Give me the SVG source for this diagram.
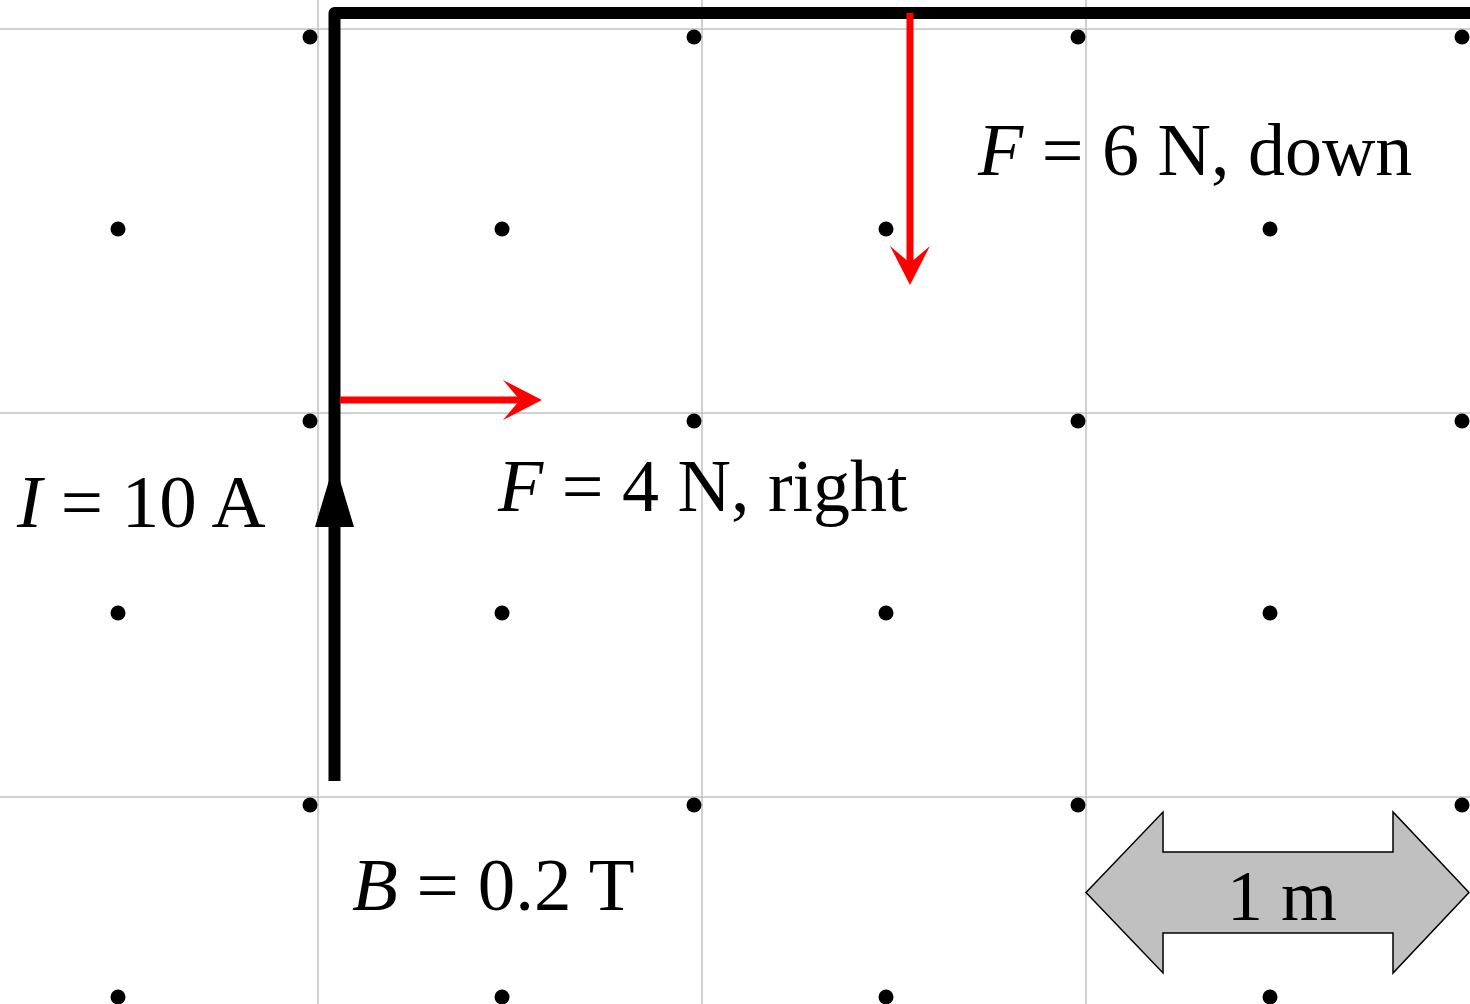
<svg xmlns="http://www.w3.org/2000/svg" width="1470" height="1004" viewBox="0 0 1470 1004">
<style>
.grid{stroke:#c0c0c0;stroke-width:1.5;fill:none}
.dot{fill:#000}
.wire{stroke:#000;stroke-width:12;fill:none;stroke-linejoin:round;stroke-linecap:butt}
.force{stroke:#ff0000;stroke-width:7;fill:none;marker-end:url(#redhead)}
.lbl{font-family:"Liberation Serif","Times New Roman",serif;font-size:75px;fill:#000}
.flbl{font-size:74px}
.it{font-style:italic}
.scale{fill:#c0c0c0;stroke:#000;stroke-width:1.5}
</style>
<defs>
<marker id="redhead" markerUnits="userSpaceOnUse" viewBox="0 0 40 40" refX="17" refY="20" markerWidth="40" markerHeight="40" orient="auto">
<path d="M39,20 L0,0 L17,20 L0,40 Z" fill="#ff0000"/>
</marker>
</defs>
<rect width="1470" height="1004" fill="#fff"/>
<g id="grid" class="grid">
<line x1="318" y1="0" x2="318" y2="1004"/>
<line x1="702" y1="0" x2="702" y2="1004"/>
<line x1="1086" y1="0" x2="1086" y2="1004"/>
<line x1="0" y1="29" x2="1470" y2="29"/>
<line x1="0" y1="413" x2="1470" y2="413"/>
<line x1="0" y1="797" x2="1470" y2="797"/>
</g>
<g id="field-dots" class="dot">
<circle cx="310" cy="37" r="7.5"/><circle cx="694" cy="37" r="7.5"/><circle cx="1078" cy="37" r="7.5"/><circle cx="1462" cy="37" r="7.5"/>
<circle cx="118" cy="229" r="7.5"/><circle cx="502" cy="229" r="7.5"/><circle cx="886" cy="229" r="7.5"/><circle cx="1270" cy="229" r="7.5"/>
<circle cx="310" cy="421" r="7.5"/><circle cx="694" cy="421" r="7.5"/><circle cx="1078" cy="421" r="7.5"/><circle cx="1462" cy="421" r="7.5"/>
<circle cx="118" cy="613" r="7.5"/><circle cx="502" cy="613" r="7.5"/><circle cx="886" cy="613" r="7.5"/><circle cx="1270" cy="613" r="7.5"/>
<circle cx="310" cy="805" r="7.5"/><circle cx="694" cy="805" r="7.5"/><circle cx="1078" cy="805" r="7.5"/><circle cx="1462" cy="805" r="7.5"/>
<circle cx="118" cy="997" r="7.5"/><circle cx="502" cy="997" r="7.5"/><circle cx="886" cy="997" r="7.5"/><circle cx="1270" cy="997" r="7.5"/>
</g>
<g id="wire">
<path class="wire" d="M334.5,781 L334.5,13 L1480,13"/>
<polygon points="334.5,462 354,527 315,527" fill="#000"/>
</g>
<g id="connectors">
<line class="force" x1="340" y1="400" x2="520" y2="400"/>
<line class="force" x1="910" y1="13" x2="910" y2="263"/>
</g>
<g id="label-current"><text class="lbl" x="17" y="527"><tspan class="it">I</tspan> = 10 A</text></g>
<g id="label-force-right"><text class="lbl flbl" x="498" y="511"><tspan class="it">F</tspan> = 4 N, right</text></g>
<g id="label-force-down"><text class="lbl flbl" x="978" y="175"><tspan class="it">F</tspan> = 6 N, down</text></g>
<g id="label-field"><text class="lbl" x="352" y="910"><tspan class="it">B</tspan> = 0.2 T</text></g>
<g id="scale-bar">
<polygon class="scale" points="1086,892.5 1163,812 1163,852 1393,852 1393,812 1469,892.5 1393,973 1393,933 1163,933 1163,973"/>
<text class="lbl" x="1282" y="920" text-anchor="middle" style="font-size:72px">1 m</text>
</g>
</svg>
